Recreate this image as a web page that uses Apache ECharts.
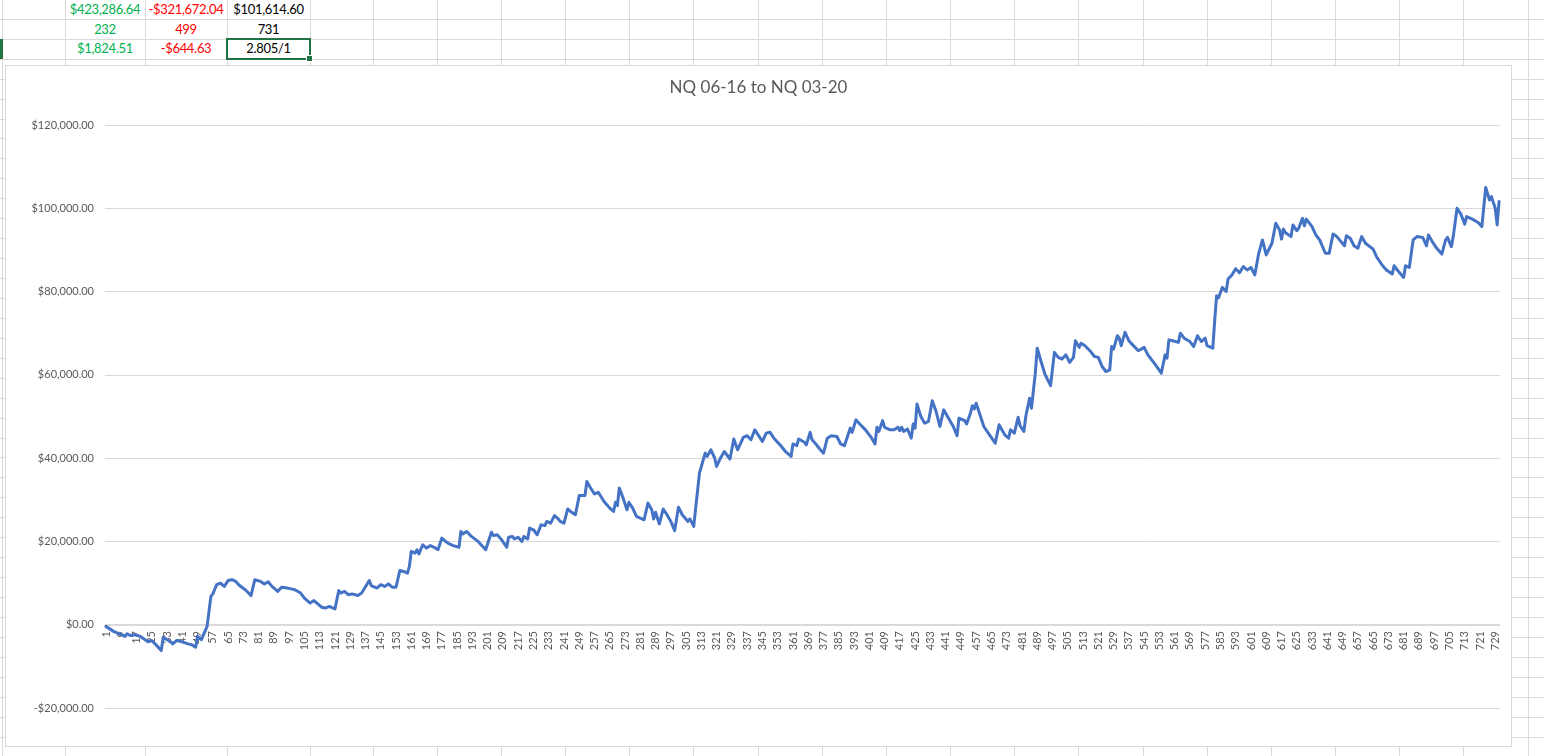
<!DOCTYPE html>
<html>
<head>
<meta charset="utf-8">
<script src="https://cdn.jsdelivr.net/npm/echarts@6/dist/echarts.min.js"></script>
<style>
  html, body { margin:0; padding:0; background:#ffffff; width:1544px; height:756px; overflow:hidden; position:relative; font-family: Lato, "Noto Sans", sans-serif; }
  .vl { position:absolute; top:0; width:1px; height:756px; background:#dadada; }
  .hl { position:absolute; left:0; height:1px; width:1544px; background:#dadada; }
  .cell { position:absolute; height:19px; line-height:19px; text-align:center; font-size:13px; letter-spacing:-0.3px; }
  #box { position:absolute; left:5px; top:65px; width:1505px; height:680px; border:1px solid #d9d9d9; background:#ffffff; }
  #chart { position:absolute; left:0; top:0; width:1505px; height:680px; }
  #sel { position:absolute; left:226px; top:38px; width:81px; height:18px; border:2px solid #217346; }
  #handle { position:absolute; left:306px; top:55px; width:5px; height:5px; background:#217346; border:1px solid #fff; }
  #rowmark { position:absolute; left:0; top:39px; width:3px; height:20px; background:#217346; }
</style>
</head>
<body>
<div id="sheet"></div>
<div id="rowmark"></div>
<div class="cell" style="left:65px;top:0;width:80px;color:#00B050">$423,286.64</div>
<div class="cell" style="left:145px;top:0;width:82px;color:#FF0000">-$321,672.04</div>
<div class="cell" style="left:227px;top:0;width:83px;color:#000000">$101,614.60</div>
<div class="cell" style="left:65px;top:20px;width:80px;color:#00B050">232</div>
<div class="cell" style="left:145px;top:20px;width:82px;color:#FF0000">499</div>
<div class="cell" style="left:227px;top:20px;width:83px;color:#000000">731</div>
<div class="cell" style="left:65px;top:39px;width:80px;color:#00B050">$1,824.51</div>
<div class="cell" style="left:145px;top:39px;width:82px;color:#FF0000">-$644.63</div>
<div class="cell" style="left:227px;top:39px;width:83px;color:#000000">2.805/1</div>
<div id="sel"></div>
<div id="handle"></div>
<div id="box"><div id="chart"></div></div>
<script>
// ---- data (trade number, cumulative equity) ----
var chartTitle = 'NQ 06-16 to NQ 03-20';
var tradeCount = 731;
var equityPoints = [
[1,-400],[3,-1000],[5,-1600],[8,-2200],[11,-2800],[12,-2200],[14,-2600],[16,-2400],[19,-2800],[20,-3100],
[23,-4100],[25,-3800],[28,-5200],[30,-6200],[31,-3000],[33,-3600],[35,-4100],[36,-4600],[38,-3800],[41,-4100],
[42,-4000],[44,-4600],[46,-4800],[48,-5400],[49,-2800],[51,-3600],[52,-3400],[54,-400],[55,0],[56,6800],
[57,7400],[59,9600],[60,9400],[61,10000],[63,9200],[65,10600],[67,10800],[69,10400],[71,9400],[74,8400],
[77,7000],[79,10800],[82,10400],[84,9800],[86,10300],[88,9200],[91,8000],[93,9000],[96,8800],[98,8600],
[100,8400],[103,7600],[105,6400],[108,5200],[110,5800],[112,5000],[114,4200],[116,4000],[118,4400],[119,4000],
[121,3800],[123,8200],[124,7600],[126,8000],[128,7200],[130,7400],[133,7000],[135,7600],[136,7200],[139,10600],
[140,9400],[143,8800],[145,9600],[147,9200],[149,9800],[151,9000],[153,9000],[154,8700],[155,13000],[157,12800],
[159,12400],[160,14000],[161,17600],[163,17200],[164,18000],[165,17000],[167,19200],[169,18400],[171,19000],[173,18600],
[175,18000],[177,20800],[179,20000],[181,19400],[183,19000],[186,18600],[187,22400],[188,21800],[190,22400],[192,21400],
[193,21600],[196,20000],[200,18000],[203,22200],[204,21400],[206,21600],[208,20600],[211,18600],[212,21000],[214,21200],
[215,20600],[217,21000],[219,20000],[220,21200],[222,20600],[223,23200],[225,22800],[227,21600],[229,24000],[231,23800],
[232,24800],[234,24400],[236,26200],[238,25400],[239,24800],[241,24400],[243,27800],[245,27000],[247,26400],[249,31000],
[250,31200],[252,31000],[253,34400],[255,32800],[257,31400],[259,31800],[262,29600],[265,28000],[267,27200],[268,29400],
[269,28600],[270,32800],[272,30400],[274,27600],[275,29400],[277,28000],[279,26000],[281,25600],[283,25200],[285,29200],
[287,27600],[288,25400],[289,27000],[291,24200],[293,27800],[295,26400],[297,24800],[299,22600],[300,25400],[301,28200],
[303,26400],[306,24800],[307,25400],[309,23600],[310,23800],[312,36400],[313,36000],[315,41200],[316,40400],[318,42000],
[320,40000],[321,38000],[323,40000],[325,41600],[328,39800],[330,44600],[332,42000],[335,45000],[336,44800],[337,45400],
[339,44400],[341,46800],[343,45400],[345,44000],[347,46000],[349,46200],[351,44800],[355,42800],[357,41600],[360,40400],
[361,43400],[363,43000],[364,44600],[367,43800],[368,43200],[370,46200],[371,44400],[373,43400],[375,42200],[377,41200],
[379,44800],[380,44400],[381,45400],[384,45200],[386,43400],[388,43000],[391,47200],[392,46200],[394,49200],[396,48200],
[399,46800],[400,46400],[402,45000],[404,43400],[405,47400],[406,46400],[408,49000],[409,47400],[412,46800],[414,46800],
[416,47400],[417,46600],[418,47400],[419,46400],[421,47000],[423,44800],[424,48200],[425,47200],[426,53000],[428,50000],
[430,48400],[432,48800],[434,53800],[436,51200],[438,47600],[440,51600],[442,50000],[445,47600],[446,47800],[447,45400],
[448,49600],[451,49000],[452,48200],[454,50800],[455,52600],[456,51800],[457,53200],[459,50400],[461,47600],[464,45600],
[467,43600],[468,43200],[469,48000],[471,46400],[472,45600],[474,44800],[475,46800],[477,46000],[479,49800],[480,47800],
[482,46400],[483,50000],[485,54400],[486,52000],[488,60400],[489,66400],[491,63200],[493,60200],[496,57400],[498,65400],
[500,64200],[501,64600],[502,63800],[504,64800],[506,63000],[508,64200],[509,68200],[511,66600],[512,67600],[514,67000],
[515,67200],[517,65600],[519,64400],[521,64200],[523,62000],[525,60800],[527,61200],[528,66800],[529,66200],[531,69400],
[532,68800],[533,67000],[535,70200],[537,68200],[539,67200],[542,65800],[543,65400],[545,66600],[547,64800],[551,62400],
[554,60400],[556,64800],[557,64000],[558,68400],[560,68200],[563,67800],[564,70000],[566,68800],[569,68000],[571,66800],
[573,69400],[575,68000],[577,68800],[578,67000],[581,66400],[582,73000],[583,79000],[584,78500],[586,81000],[588,80000],
[589,83000],[591,84000],[593,85500],[595,84500],[597,86000],[599,85200],[601,85800],[603,84000],[605,89000],[607,92400],
[609,88800],[612,91600],[614,96400],[616,94800],[617,92600],[618,95000],[619,94200],[622,93200],[623,96000],[625,94600],
[626,95200],[628,97600],[629,95800],[630,97400],[633,95600],[635,93600],[637,92400],[638,92000],[640,89200],[641,89400],
[642,89200],[644,93800],[646,93200],[647,92800],[650,91000],[651,93400],[653,92800],[655,91000],[657,90400],[658,90200],
[659,93200],[661,91600],[662,91800],[665,90200],[667,88200],[670,86200],[672,85200],[675,84200],[676,86200],[678,85000],
[681,83400],[682,86200],[684,85800],[685,89200],[686,92400],[687,92200],[688,93200],[691,93000],[693,91000],[694,93600],
[696,92000],[698,90600],[699,90800],[701,89000],[703,92400],[704,93000],[706,90800],[707,93200],[709,100000],[711,98600],
[713,96200],[714,98000],[717,97400],[720,96600],[722,95600],[723,95200],[724,105000],[726,102000],[727,102800],[729,100000],
[730,96000],[731,101614.6]
];
var yMin = -20000, yMax = 120000, yStep = 20000;

// ---- spreadsheet background grid ----
var sheet = document.getElementById('sheet');
var colX = [2, 65, 145, 227, 310];
for (var cx = 372.5; cx < 1544; cx += 64.17) colX.push(Math.round(cx));
colX.forEach(function (x) {
  var d = document.createElement('div'); d.className = 'vl'; d.style.left = x + 'px'; sheet.appendChild(d);
});
for (var k = 0; ; k++) {
  var yy = Math.round(18.8 + 19.94 * k);
  if (yy > 756) break;
  var h = document.createElement('div'); h.className = 'hl'; h.style.top = yy + 'px'; sheet.appendChild(h);
}

// ---- chart ----
var categories = [];
for (var i = 1; i <= tradeCount; i++) categories.push(String(i));
var seriesData = equityPoints.map(function (p) { return [p[0] - 1, p[1]]; });

function money(v) {
  var s = Math.abs(v).toLocaleString('en-US', { minimumFractionDigits: 2, maximumFractionDigits: 2 });
  return (v < 0 ? '-$' : '$') + s;
}

var gridTop = 59, gridBottom = 38, boxH = 680;
var plotH = boxH - gridTop - gridBottom;
var zeroOffset = -Math.round(plotH * (0 - yMin) / (yMax - yMin));

var chart = echarts.init(document.getElementById('chart'), null, { renderer: 'canvas' });
chart.setOption({
  animation: false,
  backgroundColor: '#ffffff',
  title: {
    text: chartTitle, left: 'center', top: 13, padding: 0,
    textStyle: { fontFamily: 'Lato', fontSize: 17, fontWeight: 'normal', color: '#595959' }
  },
  grid: { left: 99, right: 11, top: gridTop, bottom: gridBottom, containLabel: false },
  xAxis: {
    type: 'category', data: categories, boundaryGap: true, position: 'bottom', offset: zeroOffset,
    axisLine: { onZero: false, lineStyle: { color: '#d9d9d9', width: 1 } },
    axisTick: { show: false },
    splitLine: { show: false },
    axisLabel: { interval: 7, rotate: 90, color: '#595959', fontSize: 11, fontFamily: 'Lato', margin: 6, hideOverlap: false }
  },
  yAxis: {
    type: 'value', min: yMin, max: yMax, interval: yStep,
    axisLine: { show: false }, axisTick: { show: false },
    splitLine: { lineStyle: { color: '#d9d9d9', width: 1 } },
    axisLabel: { formatter: money, color: '#595959', fontSize: 11, fontFamily: 'Lato', margin: 11 }
  },
  series: [{
    type: 'line', data: seriesData, symbol: 'none', showSymbol: false, smooth: false, z: 3,
    lineStyle: { color: '#4472C4', width: 3, join: 'round', cap: 'round' },
    itemStyle: { color: '#4472C4' }
  }]
});
</script>
</body>
</html>
